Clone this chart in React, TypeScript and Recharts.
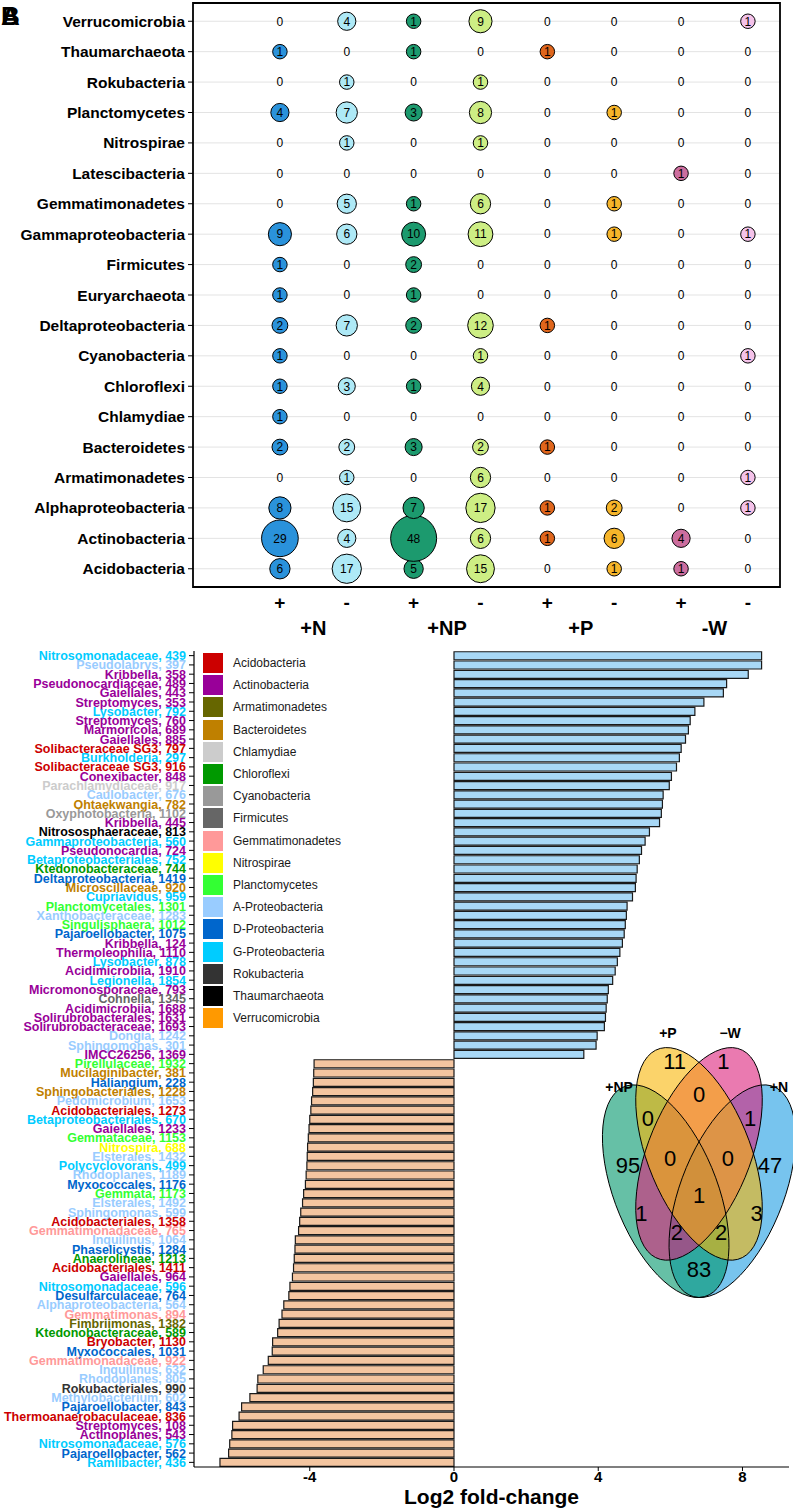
import React from 'react';
import {
  ScatterChart, Scatter, XAxis, YAxis, ZAxis, CartesianGrid, ReferenceArea,
  BarChart, Bar, Cell,
} from 'recharts';

const FONT = '"Liberation Sans", Arial, Helvetica, sans-serif';

// ---------------- Top panel (bubble chart) ----------------
// phyla listed bottom -> top
const phyla = [
  'Acidobacteria', 'Actinobacteria', 'Alphaproteobacteria', 'Armatimonadetes', 'Bacteroidetes',
  'Chlamydiae', 'Chloroflexi', 'Cyanobacteria', 'Deltaproteobacteria', 'Euryarchaeota',
  'Firmicutes', 'Gammaproteobacteria', 'Gemmatimonadetes', 'Latescibacteria', 'Nitrospirae',
  'Planctomycetes', 'Rokubacteria', 'Thaumarchaeota', 'Verrucomicrobia',
];
const treatments = ['+N', '+NP', '+P', '-W'];
const directions = ['+', '-'];
const columnColors = ['#2a92db', '#aee9f6', '#1c9a6e', '#cdee84', '#e0661c', '#f6b52a', '#cc6d9e', '#f4c2e9'];

const countsNUp = [6, 29, 8, 0, 2, 1, 1, 1, 2, 1, 1, 9, 0, 0, 0, 4, 0, 1, 0];
const countsNDown = [17, 4, 15, 1, 2, 0, 3, 0, 7, 0, 0, 6, 5, 0, 1, 7, 1, 0, 4];
const countsNPUp = [5, 48, 7, 0, 3, 0, 1, 0, 2, 1, 2, 10, 1, 0, 0, 3, 0, 1, 1];
const countsNPDown = [15, 6, 17, 6, 2, 0, 4, 1, 12, 0, 0, 11, 6, 0, 1, 8, 1, 0, 9];
const countsPUp = [0, 1, 1, 0, 1, 0, 0, 0, 1, 0, 0, 0, 0, 0, 0, 0, 0, 1, 0];
const countsPDown = [1, 6, 2, 0, 0, 0, 0, 0, 0, 0, 0, 1, 1, 0, 0, 1, 0, 0, 0];
const countsWUp = [1, 4, 0, 0, 0, 0, 0, 0, 0, 0, 0, 0, 0, 1, 0, 0, 0, 0, 0];
const countsWDown = [0, 0, 1, 1, 0, 0, 0, 1, 0, 0, 0, 1, 0, 0, 0, 0, 0, 0, 1];
const columnCounts = [countsNUp, countsNDown, countsNPUp, countsNPDown, countsPUp, countsPDown, countsWUp, countsWDown];

// ---------------- Bottom panel (bars) ----------------
const legendNames = [
  'Acidobacteria', 'Actinobacteria', 'Armatimonadetes', 'Bacteroidetes', 'Chlamydiae', 'Chloroflexi',
  'Cyanobacteria', 'Firmicutes', 'Gemmatimonadetes', 'Nitrospirae', 'Planctomycetes',
  'A-Proteobacteria', 'D-Proteobacteria', 'G-Proteobacteria', 'Rokubacteria', 'Thaumarchaeota', 'Verrucomicrobia',
];
const legendColors = [
  '#cc0000', '#990099', '#666600', '#bf8000', '#cccccc', '#009900', '#999999', '#666666', '#ff9999',
  '#ffff00', '#33ff33', '#99ccff', '#0066cc', '#00ccff', '#333333', '#000000', '#ff9900',
];

const barTaxa = [
  'Nitrosomonadaceae', 'Pseudolabrys', 'Kribbella', 'Pseudonocardiaceae', 'Gaiellales', 'Streptomyces',
  'Lysobacter', 'Streptomyces', 'Marmoricola', 'Gaiellales', 'Solibacteraceae SG3', 'Burkholderia',
  'Solibacteraceae SG3', 'Conexibacter', 'Parachlamydiaceae', 'Caulobacter', 'Ohtaekwangia', 'Oxyphotobacteria',
  'Kribbella', 'Nitrososphaeraceae', 'Gammaproteobacteria', 'Pseudonocardia', 'Betaproteobacteriales',
  'Ktedonobacteraceae', 'Deltaproteobacteria', 'Microscillaceae', 'Cupriavidus', 'Planctomycetales',
  'Xanthobacteraceae', 'Singulisphaera', 'Pajaroellobacter', 'Kribbella', 'Thermoleophilia', 'Lysobacter',
  'Acidimicrobiia', 'Legionella', 'Micromonosporaceae', 'Cohnella', 'Acidimicrobiia', 'Solirubrobacterales',
  'Solirubrobacteraceae', 'Dongia', 'Sphingomonas', 'IMCC26256',
  'Pirellulaceae', 'Mucilaginibacter', 'Haliangium', 'Sphingobacteriales', 'Pedomicrobium', 'Acidobacteriales',
  'Betaproteobacteriales', 'Gaiellales', 'Gemmataceae', 'Nitrospira', 'Elsterales', 'Polycyclovorans',
  'Rhodoplanes', 'Myxococcales', 'Gemmata', 'Elsterales', 'Sphingomonas', 'Acidobacteriales',
  'Gemmatimonadaceae', 'Inquilinus', 'Phaselicystis', 'Anaerolineae', 'Acidobacteriales', 'Gaiellales',
  'Nitrosomonadaceae', 'Desulfarculaceae', 'Alphaproteobacteria', 'Gemmatimonas', 'Fimbriimonas',
  'Ktedonobacteraceae', 'Bryobacter', 'Myxococcales', 'Gemmatimonadaceae', 'Inquilinus', 'Rhodoplanes',
  'Rokubacteriales', 'Methylobacterium', 'Pajaroellobacter', 'Thermoanaerobaculaceae', 'Streptomyces',
  'Actinoplanes', 'Nitrosomonadaceae', 'Pajaroellobacter', 'Ramlibacter',
];
const barIds = [
  439, 397, 358, 489, 443, 353, 792, 760, 689, 885, 797, 297, 916, 848, 917, 676, 782, 1102, 445, 813,
  560, 724, 752, 744, 1419, 920, 959, 1301, 1283, 1012, 1075, 124, 1110, 878, 1910, 1854, 793, 1345,
  1688, 1631, 1693, 1242, 301, 1369,
  1932, 381, 228, 1228, 1653, 1273, 670, 1233, 1153, 688, 1432, 499, 1189, 1176, 1173, 1492, 599, 1358,
  765, 1064, 1284, 1213, 1411, 964, 596, 764, 564, 894, 1382, 589, 1130, 1031, 922, 632, 805, 990, 602,
  843, 836, 108, 543, 576, 562, 436,
];
// index into legendNames
const barPhyla = [
  13, 11, 1, 1, 1, 1, 13, 1, 1, 1, 0, 13, 0, 1, 4, 11, 3, 6, 1, 15, 13, 1, 13, 5, 12, 3, 13, 10, 11, 10,
  12, 1, 1, 13, 1, 13, 1, 7, 1, 1, 1, 11, 11, 1,
  10, 3, 12, 3, 11, 0, 13, 1, 10, 9, 11, 13, 11, 12, 10, 11, 11, 0, 8, 11, 12, 5, 0, 1, 13, 12, 11, 8,
  2, 5, 0, 12, 8, 11, 11, 14, 11, 12, 0, 1, 1, 13, 12, 13,
];
const barValues = [
  8.53, 8.53, 8.16, 7.56, 7.47, 6.93, 6.68, 6.55, 6.5, 6.42, 6.3, 6.25, 6.17, 6.03, 5.97, 5.8, 5.78, 5.75,
  5.7, 5.42, 5.3, 5.2, 5.14, 5.08, 5.05, 5.03, 4.95, 4.8, 4.78, 4.75, 4.72, 4.67, 4.6, 4.53, 4.47, 4.4,
  4.28, 4.25, 4.22, 4.2, 4.17, 3.97, 3.94, 3.6,
  -3.88, -3.89, -3.9, -3.92, -3.95, -3.97, -4.0, -4.02, -4.04, -4.06, -4.07, -4.08, -4.1, -4.12, -4.17,
  -4.2, -4.25, -4.28, -4.31, -4.4, -4.41, -4.43, -4.45, -4.48, -4.55, -4.58, -4.72, -4.77, -4.85, -4.89,
  -5.03, -5.04, -5.15, -5.29, -5.44, -5.46, -5.66, -5.89, -5.96, -6.14, -6.16, -6.22, -6.25, -6.49,
];
const xTicks = [-4, 0, 4, 8];

// ---------------- Venn ----------------
const vennSets = ['+N', '+NP', '\u2212W', '+P'];
const vennSetColors = ['#1c9de3', '#00966a', '#dc217b', '#f8b607'];
const vennRegionSets = [
  ['+NP'], ['+P'], ['\u2212W'], ['+N'],
  ['+NP', '+P'], ['+P', '\u2212W'], ['\u2212W', '+N'],
  ['+NP', '+P', '\u2212W'], ['+P', '\u2212W', '+N'], ['+NP', '+P', '\u2212W', '+N'],
  ['+NP', '\u2212W'], ['+P', '+N'], ['+NP', '\u2212W', '+N'], ['+NP', '+P', '+N'], ['+NP', '+N'],
];
const vennRegionCounts = [95, 11, 1, 47, 0, 0, 1, 0, 0, 1, 1, 3, 2, 2, 83];

// layout (unit-square geometry of a 4-ellipse Venn)
const ELLIPSE_GEOM: Record<string, { cx: number; cy: number; ang: number }> = {
  '+N': { cx: 0.65, cy: 0.47, ang: 45 },
  '+NP': { cx: 0.35, cy: 0.47, ang: 135 },
  '\u2212W': { cx: 0.5, cy: 0.57, ang: 45 },
  '+P': { cx: 0.5, cy: 0.57, ang: 135 },
};
const SET_LABEL_POS: Record<string, [number, number]> = {
  '+NP': [0.14, 0.75], '+P': [0.36, 0.895], '\u2212W': [0.64, 0.895], '+N': [0.86, 0.75],
};
const REGION_POS: [number, number][] = [
  [0.18, 0.54], [0.39, 0.82], [0.61, 0.82], [0.82, 0.54],
  [0.27, 0.665], [0.5, 0.73], [0.73, 0.665],
  [0.37, 0.56], [0.63, 0.56], [0.5, 0.46],
  [0.24, 0.41], [0.76, 0.41], [0.40, 0.36], [0.60, 0.36], [0.5, 0.26],
];

// ---------------- components ----------------
const Bubble = (props: any) => {
  const { cx, cy, payload, fill } = props;
  const v = payload.v;
  if (v === 0) {
    return (
      <text x={cx} y={cy} dy="0.36em" textAnchor="middle" fontSize={12} fontFamily={FONT} fill="#000">0</text>
    );
  }
  const r = props.size != null ? Math.sqrt(props.size / Math.PI) : props.width / 2;
  return (
    <g>
      <circle cx={cx} cy={cy} r={r} fill={fill} stroke="#000" strokeWidth={1} />
      <text x={cx} y={cy} dy="0.36em" textAnchor="middle" fontSize={12} fontFamily={FONT} fill="#000">{v}</text>
    </g>
  );
};

const X_DOMAIN: [number, number] = [-1.3, 7.48];
const GROUP_OFFSET = 33.4; // half of one column step, in px

const ColTick = (props: any) => {
  const { x, y, payload } = props;
  const i = payload.value as number;
  return (
    <g>
      <text x={x} y={y + 15} dy="0.36em" textAnchor="middle" fontSize={19} fontWeight="bold" fontFamily={FONT} fill="#000">
        {directions[i % 2]}
      </text>
      {i % 2 === 0 && (
        <text x={x + GROUP_OFFSET} y={y + 41} dy="0.36em" textAnchor="middle" fontSize={20} fontWeight="bold" fontFamily={FONT} fill="#000">
          {treatments[i / 2]}
        </text>
      )}
    </g>
  );
};

const TopChart = () => {
  const rowTicks = phyla.map((_, i) => i);
  const colTicks = columnCounts.map((_, i) => i);
  return (
    <ScatterChart width={793} height={650} margin={{ top: 3, right: 13, bottom: 0, left: 0 }}>
      <CartesianGrid vertical={false} stroke="#e3e3e3" strokeWidth={1} />
      <XAxis
        type="number" dataKey="x" domain={X_DOMAIN} ticks={colTicks} interval={0}
        axisLine={false} tickLine={false} tickSize={0} tickMargin={0} height={63}
        tick={<ColTick />}
      />
      <YAxis
        type="number" dataKey="y" domain={[-0.6, 18.6]} ticks={rowTicks} interval={0}
        tickFormatter={(i: number) => phyla[i]} width={193} axisLine={false}
        tickLine={{ stroke: '#000' }} tickSize={5} tickMargin={3}
        tick={{ fontSize: 15.5, fontWeight: 'bold', fill: '#000', fontFamily: FONT }}
      />
      <ZAxis type="number" dataKey="v" domain={[1, 48]} range={[133, 1662]} />
      {columnCounts.map((counts, c) => (
        <Scatter
          key={c}
          data={counts.map((v, i) => ({ x: c, y: i, v }))}
          fill={columnColors[c]}
          shape={Bubble}
          isAnimationActive={false}
        />
      ))}
      <ReferenceArea x1={X_DOMAIN[0]} x2={X_DOMAIN[1]} y1={-0.6} y2={18.6} fill="none" stroke="#000" strokeWidth={1.8} ifOverflow="visible" />
    </ScatterChart>
  );
};

const barRows = barTaxa.map((t, i) => ({
  name: `${t}, ${barIds[i]}`,
  value: barValues[i],
  color: legendColors[barPhyla[i]],
}));
const colorByName: Record<string, string> = {};
barRows.forEach((r) => { colorByName[r.name] = r.color; });

const BarTick = (props: any) => {
  const { x, y, payload } = props;
  return (
    <text x={x} y={y} dy="0.36em" textAnchor="end" fontSize={12.5} fontWeight="bold" fontFamily={FONT}
      fill={colorByName[payload.value]}>
      {payload.value}
    </text>
  );
};

const BottomChart = () => (
  <BarChart layout="vertical" width={793} height={868} data={barRows}
    margin={{ top: 11, right: 4, left: 0, bottom: 0 }} barCategoryGap="8%">
    <XAxis
      type="number" domain={[-7.21, 9.29]} ticks={xTicks} allowDataOverflow
      axisLine={{ stroke: '#000', strokeWidth: 1.2 }} tickLine={{ stroke: '#000' }} tickSize={4} tickMargin={0}
      height={41}
      tick={{ fontSize: 15, fontWeight: 'bold', fill: '#000', fontFamily: FONT }}
      label={{ value: 'Log2 fold-change', position: 'insideBottom', offset: 4, fontSize: 21, fontWeight: 'bold', fill: '#000', fontFamily: FONT }}
    />
    <YAxis
      type="category" dataKey="name" width={194} interval={0}
      axisLine={{ stroke: '#000', strokeWidth: 1.2 }} tickLine={{ stroke: '#000' }} tickSize={5} tickMargin={3}
      tick={<BarTick />}
    />
    <Bar dataKey="value" stroke="#1a1a1a" strokeWidth={1.2} isAnimationActive={false}>
      {barRows.map((r, i) => (
        <Cell key={i} fill={r.value > 0 ? '#a8d8f6' : '#f4c5a0'} />
      ))}
    </Bar>
  </BarChart>
);

const Legend = () => (
  <div style={{ position: 'absolute', left: 203, top: 652, fontFamily: FONT }}>
    {legendNames.map((n, i) => (
      <div key={n} style={{ display: 'flex', alignItems: 'center', height: 22.2 }}>
        <div style={{ width: 20, height: 20, background: legendColors[i] }} />
        <div style={{ marginLeft: 10, fontSize: 12, color: '#1a1a1a' }}>{n}</div>
      </div>
    ))}
  </div>
);

const Venn = () => {
  const sx = 222, sy = 373, cx0 = 699, cy0 = 1180;
  const X = (u: number) => cx0 + (u - 0.5) * sx;
  const Y = (v: number) => cy0 - (v - 0.5) * sy;
  return (
    <svg width={793} height={1508} style={{ position: 'absolute', left: 0, top: 0, pointerEvents: 'none' }}>
      <g transform={`translate(${cx0 - 0.5 * sx} ${cy0 + 0.5 * sy}) scale(${sx} ${-sy})`}>
        {vennSets.map((s, i) => {
          const g = ELLIPSE_GEOM[s];
          return (
            <ellipse key={'f' + s} cx={g.cx} cy={g.cy} rx={0.35} ry={0.2}
              transform={`rotate(${g.ang} ${g.cx} ${g.cy})`} fill={vennSetColors[i]} fillOpacity={0.6} stroke="none" />
          );
        })}
        {vennSets.map((s) => {
          const g = ELLIPSE_GEOM[s];
          return (
            <ellipse key={'s' + s} cx={g.cx} cy={g.cy} rx={0.35} ry={0.2}
              transform={`rotate(${g.ang} ${g.cx} ${g.cy})`} fill="none" stroke="#000" strokeWidth={1}
              vectorEffect="non-scaling-stroke" />
          );
        })}
      </g>
      {vennRegionCounts.map((c, i) => (
        <text key={'r' + i} x={X(REGION_POS[i][0])} y={Y(REGION_POS[i][1])} dy="0.36em" textAnchor="middle"
          fontSize={22} fontFamily={FONT} fill="#000">{c}</text>
      ))}
      {vennSets.map((s) => (
        <text key={'l' + s} x={X(SET_LABEL_POS[s][0])} y={Y(SET_LABEL_POS[s][1])} dy="0.36em" textAnchor="middle"
          fontSize={14} fontWeight="bold" fontFamily={FONT} fill="#000">{s}</text>
      ))}
    </svg>
  );
};

export default function App() {
  return (
    <div style={{ position: 'absolute', left: 0, top: 0, width: 793, height: 1508, background: '#fff', overflow: 'hidden', fontFamily: FONT }}>
      <div style={{ position: 'absolute', left: 0, top: 0 }}>
        <TopChart />
      </div>
      <div style={{ position: 'absolute', left: 0, top: 640 }}>
        <BottomChart />
      </div>
      <Legend />
      <Venn />
      <svg width={40} height={40} style={{ position: 'absolute', left: 0, top: 0 }}>
        <text x={1} y={25} fontSize={26} fontWeight="bold" fontFamily={FONT} fill="#000">A</text>
        <text x={1} y={25} fontSize={26} fontWeight="bold" fontFamily={FONT} fill="#000">B</text>
      </svg>
    </div>
  );
}
